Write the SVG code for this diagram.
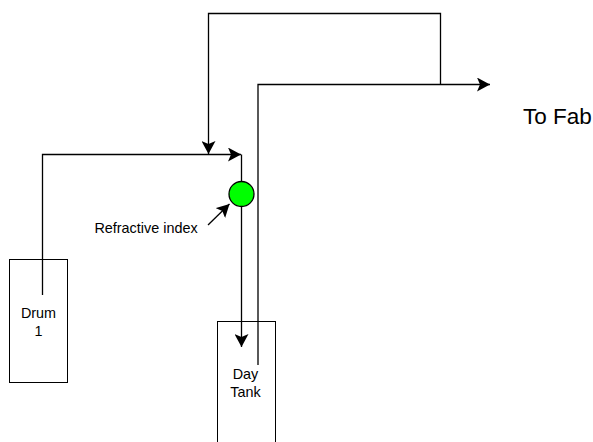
<svg xmlns="http://www.w3.org/2000/svg" width="593" height="442" viewBox="0 0 593 442">
<style>
text{font-family:"Liberation Sans",Arial,sans-serif;fill:#000;text-anchor:middle}
.s{font-size:14.400px}
.box{fill:#fff;stroke:#000;stroke-width:1}
.line{fill:none;stroke:#000;stroke-width:1.300}
</style>
<defs>
<marker id="a" viewBox="0 0 14 14" refX="13" refY="7" markerWidth="14" markerHeight="14" markerUnits="userSpaceOnUse" orient="auto"><path d="M0 0L13 7L0 14L3 7Z" fill="#000"/></marker>
</defs>
<rect width="593" height="442" fill="#fff"/>
<g id="drum1"><rect class="box" x="9.500" y="259.500" width="58" height="123"/><text class="s" x="38.500" y="318">Drum</text><text class="s" x="38.500" y="336">1</text></g>
<g id="daytank"><rect class="box" x="217.500" y="321.500" width="58" height="121"/><text class="s" x="245.500" y="379">Day</text><text class="s" x="245.500" y="397">Tank</text></g>
<g id="connectors">
<path class="line" d="M42.500 295V154.500H241" marker-end="url(#a)"/>
<path class="line" d="M241.500 154.500V182"/>
<path class="line" d="M241.500 207V347" marker-end="url(#a)"/>
<path class="line" d="M258 365V84.500H490" marker-end="url(#a)"/>
<path class="line" d="M440.500 84.500V13.500H208.500V154" marker-end="url(#a)"/>
<path class="line" d="M208 225L229.500 204" marker-end="url(#a)"/>
</g>
<g id="sensor"><circle cx="241.500" cy="194" r="12.500" fill="#00ff00" stroke="#000" stroke-width="1.300"/></g>
<g id="labels"><text class="s" x="146" y="233">Refractive index</text><text x="557.500" y="124" font-size="22.500">To Fab</text></g>
</svg>
